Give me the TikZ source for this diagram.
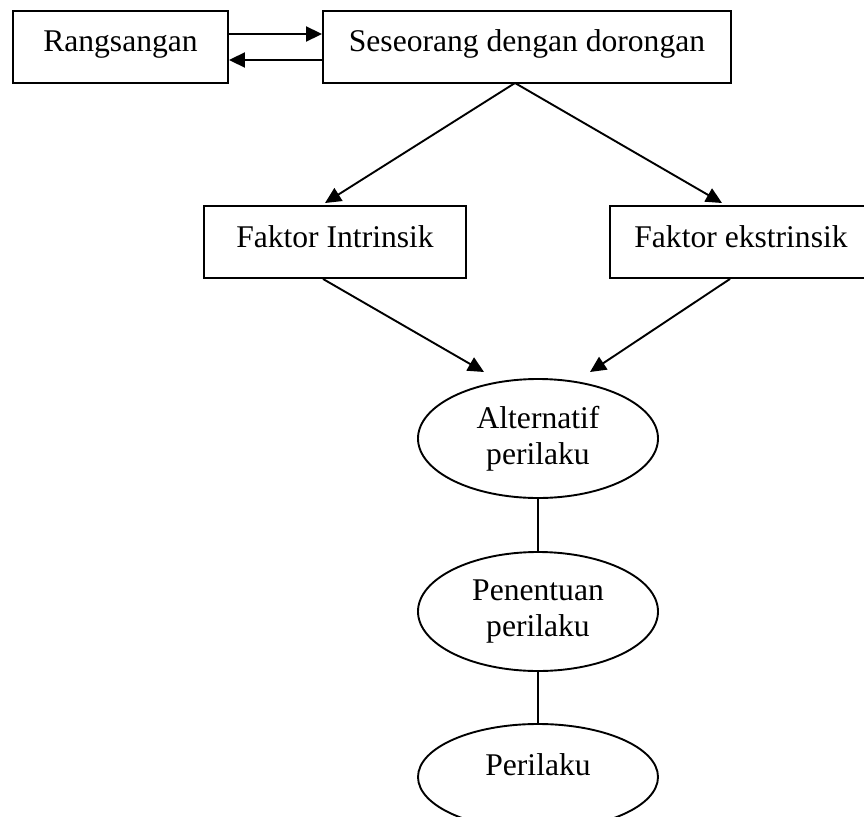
\documentclass[tikz,border=0pt]{standalone}
\usepackage{fontspec}
\setmainfont{Liberation Serif}
\usetikzlibrary{arrows.meta,shapes.geometric}

\tikzset{
  kotak/.style={draw,line width=1.9pt,rectangle,inner sep=0pt,text height=22pt,text depth=12pt},
  bulat/.style={draw,line width=1.9pt,ellipse,inner sep=0pt,minimum width=240pt,minimum height=119pt,align=center},
  panah/.style={line width=1.9pt,-{Triangle[length=16pt,width=15pt]}},
  garis/.style={line width=1.9pt}
}

\begin{document}
\begin{tikzpicture}[x=1pt,y=-1pt,font=\fontsize{31.6}{36}\selectfont]
\useasboundingbox (0,0) rectangle (864,816);

\node[kotak,minimum width=215pt,minimum height=72pt] (rangsangan) at (120.5,47) {Rangsangan};
\node[kotak,minimum width=408pt,minimum height=72pt] (seseorang) at (527,47) {Seseorang dengan dorongan};
\node[kotak,minimum width=262pt,minimum height=72pt] (intrinsik) at (335,242) {Faktor Intrinsik};
\node[kotak,minimum width=262pt,minimum height=72pt] (ekstrinsik) at (741,242) {Faktor ekstrinsik};

\node[bulat] (alternatif) at (538,438.5) {Alternatif\\perilaku};
\node[bulat] (penentuan) at (538,611.5) {Penentuan\\perilaku};
\node[bulat,minimum height=106pt,text height=22pt,text depth=26pt] (perilaku) at (538,777) {Perilaku};

\coordinate (puncak) at (515,83);
\coordinate (ujungkiri) at (325,203);
\coordinate (ujungkanan) at (722,203);
\coordinate (masukkiri) at (484,372);
\coordinate (masukkanan) at (590,372);

\draw[panah] ([yshift=13pt]rangsangan.east) -- ([yshift=13pt]seseorang.west);
\draw[panah] ([yshift=-13pt]seseorang.west) -- ([yshift=-13pt]rangsangan.east);

\draw[panah] (puncak) -- (ujungkiri);
\draw[panah] (puncak) -- (ujungkanan);
\draw[panah] ([xshift=-12pt]intrinsik.south) -- (masukkiri);
\draw[panah] ([xshift=-11pt]ekstrinsik.south) -- (masukkanan);

\draw[garis] (alternatif.south) -- (penentuan.north);
\draw[garis] (penentuan.south) -- (perilaku.north);
\end{tikzpicture}
\end{document}
